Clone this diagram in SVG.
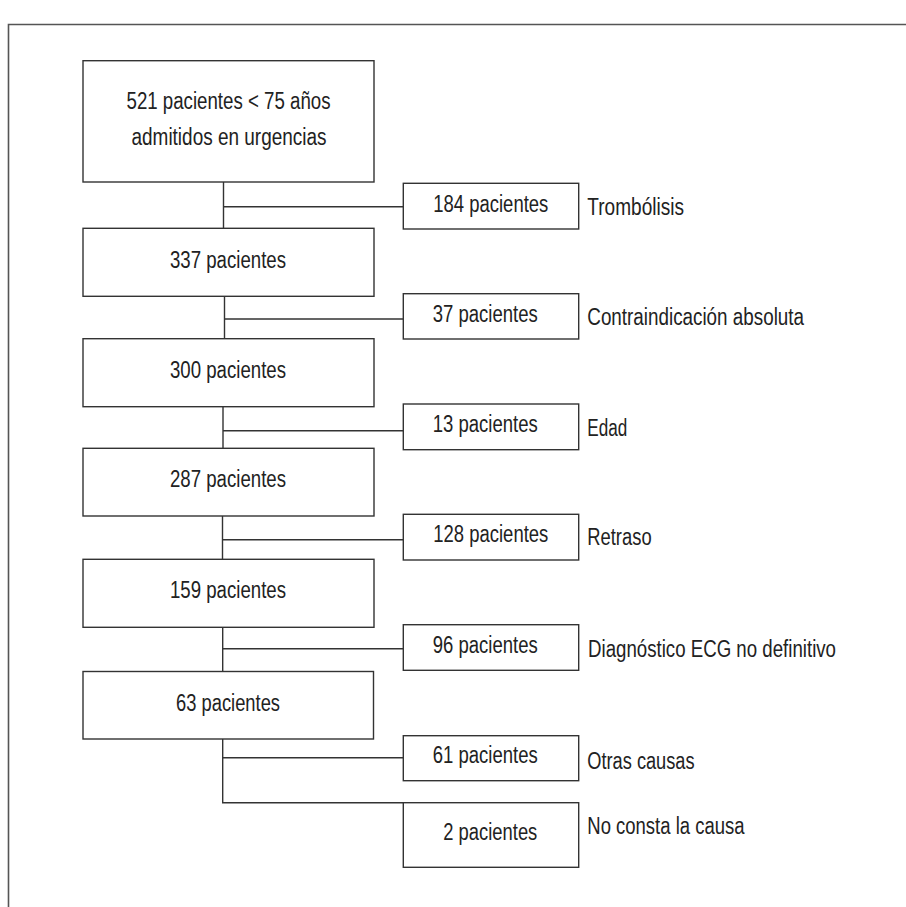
<svg xmlns="http://www.w3.org/2000/svg" width="906" height="907" viewBox="0 0 906 907">
<style>
.box{fill:#fff;stroke:#333;stroke-width:1.4}
.ln{fill:none;stroke:#333;stroke-width:1.4}
.frame{fill:none;stroke:#555;stroke-width:1.6}
text{font-family:"Liberation Sans",Arial,sans-serif;font-size:23px;fill:#222}
.c{text-anchor:middle}
</style>
<rect width="906" height="907" fill="#fff"/>
<path class="frame" d="M8.5 907V24.5H906"/>
<g id="connectors">
<path class="ln" d="M223.5 182V228.3M223.5 206.7H403.3"/>
<path class="ln" d="M224.5 296.3V338.7M224.5 319H403.3"/>
<path class="ln" d="M223 406.7V448.3M223 430.7H403.3"/>
<path class="ln" d="M222.5 516V559.3M222.5 539.7H403.3"/>
<path class="ln" d="M222.7 627.3V671.5M222.7 648.7H403.3"/>
<path class="ln" d="M222.7 739V802.7H403.3M222.7 757.7H403.3"/>
</g>
<g id="n521"><rect class="box" x="83" y="60.7" width="291" height="121.3"/>
<text class="c" x="228.5" y="109" textLength="204" lengthAdjust="spacingAndGlyphs">521 pacientes &lt; 75 años</text>
<text class="c" x="229" y="145" textLength="195" lengthAdjust="spacingAndGlyphs">admitidos en urgencias</text></g>
<g id="n337"><rect class="box" x="83" y="228.3" width="291" height="68"/>
<text class="c" x="228" y="268.3" textLength="116" lengthAdjust="spacingAndGlyphs">337 pacientes</text></g>
<g id="n300"><rect class="box" x="83" y="338.7" width="291" height="68"/>
<text class="c" x="228" y="378.3" textLength="116" lengthAdjust="spacingAndGlyphs">300 pacientes</text></g>
<g id="n287"><rect class="box" x="83" y="448.3" width="291" height="67.7"/>
<text class="c" x="228" y="486.7" textLength="116" lengthAdjust="spacingAndGlyphs">287 pacientes</text></g>
<g id="n159"><rect class="box" x="83" y="559.3" width="291" height="68"/>
<text class="c" x="228" y="598.3" textLength="116" lengthAdjust="spacingAndGlyphs">159 pacientes</text></g>
<g id="n63"><rect class="box" x="83" y="671.5" width="290.5" height="67.5"/>
<text class="c" x="228" y="710.7" textLength="104" lengthAdjust="spacingAndGlyphs">63 pacientes</text></g>
<g id="n184"><rect class="box" x="403.3" y="183.3" width="175.4" height="45.7"/>
<text x="433.3" y="211.7" textLength="115" lengthAdjust="spacingAndGlyphs">184 pacientes</text>
<text x="587.3" y="215" textLength="96.7" lengthAdjust="spacingAndGlyphs">Trombólisis</text></g>
<g id="n37"><rect class="box" x="403.3" y="293.7" width="175.4" height="45.3"/>
<text x="432.7" y="322.3" textLength="105" lengthAdjust="spacingAndGlyphs">37 pacientes</text>
<text x="587.3" y="325" textLength="216.7" lengthAdjust="spacingAndGlyphs">Contraindicación absoluta</text></g>
<g id="n13"><rect class="box" x="403.3" y="404" width="175.4" height="45.7"/>
<text x="432.7" y="432.3" textLength="105" lengthAdjust="spacingAndGlyphs">13 pacientes</text>
<text x="587.3" y="436" textLength="40" lengthAdjust="spacingAndGlyphs">Edad</text></g>
<g id="n128"><rect class="box" x="403.3" y="514.3" width="175.4" height="45.7"/>
<text x="433.3" y="541.7" textLength="115" lengthAdjust="spacingAndGlyphs">128 pacientes</text>
<text x="587.3" y="545" textLength="64.3" lengthAdjust="spacingAndGlyphs">Retraso</text></g>
<g id="n96"><rect class="box" x="403.3" y="624.7" width="175.4" height="45.6"/>
<text x="432.7" y="652.7" textLength="105" lengthAdjust="spacingAndGlyphs">96 pacientes</text>
<text x="588" y="656.7" textLength="248" lengthAdjust="spacingAndGlyphs">Diagnóstico ECG no definitivo</text></g>
<g id="n61"><rect class="box" x="403.3" y="735.7" width="175.4" height="45"/>
<text x="432.7" y="762.7" textLength="105" lengthAdjust="spacingAndGlyphs">61 pacientes</text>
<text x="587.3" y="769.3" textLength="107.3" lengthAdjust="spacingAndGlyphs">Otras causas</text></g>
<g id="n2"><rect class="box" x="403.3" y="802.7" width="175.4" height="64.6"/>
<text x="443.3" y="840" textLength="94" lengthAdjust="spacingAndGlyphs">2 pacientes</text>
<text x="587.3" y="834" textLength="157.2" lengthAdjust="spacingAndGlyphs">No consta la causa</text></g>
</svg>
